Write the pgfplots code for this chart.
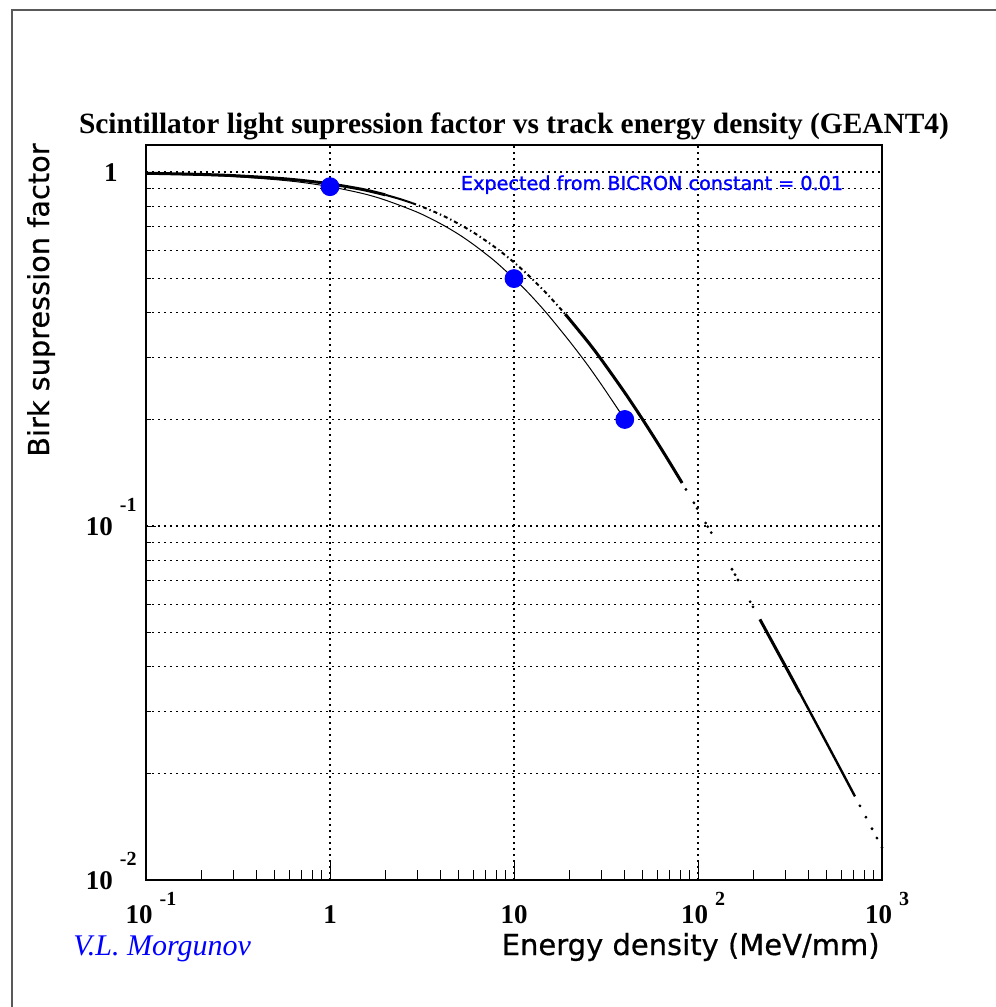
\documentclass[border=0pt]{standalone}
\usepackage{fontspec}
\setmainfont{Liberation Serif}
\newfontfamily\rootsans{DejaVu Sans}
\newfontfamily\rootsansb[FakeBold=1.2]{DejaVu Sans}
\newfontfamily\rootsanst[FakeBold=0.6]{DejaVu Sans}
\usepackage{pgfplots}
\pgfplotsset{compat=1.18}
\definecolor{rootblue}{RGB}{0,0,255}
\newcommand{\tenx}[1]{\hspace*{5pt}10\hspace{3.5pt}\raisebox{9pt}{\fontsize{10}{10}\selectfont #1}}
\newcommand{\teny}[1]{10\hspace{3.5pt}\raisebox{12pt}{\fontsize{10}{10}\selectfont #1}}
\begin{document}
\begin{tikzpicture}
\useasboundingbox (0,0) rectangle (498pt,-503.5pt);
\draw[black!65, line width=0.6pt] (6pt,-503.5pt) -- (6pt,-5pt) -- (498pt,-5pt);
\begin{axis}[
  at={(73pt,-440pt)}, anchor=south west,
  width=368pt, height=367.5pt, scale only axis,
  xmode=log, ymode=log,
  xmin=0.1, xmax=1000, ymin=0.01, ymax=1.192,
  axis line style={black, line width=0.8pt},
  tick pos=left, tick align=inside,
  xtick={0.1,1,10,100,1000},
  xticklabels={\tenx{-1},1,10,\tenx{2},\tenx{3}},
  ytick={0.01,0.1,1},
  yticklabels={\teny{-2},\teny{-1},1\hspace*{9.5pt}},
  xtick style={black, line width=0.5pt, /pgfplots/major tick length=9.5pt, /pgfplots/minor tick length=5pt},
  ytick style={black, line width=0.5pt, /pgfplots/major tick length=5pt, /pgfplots/minor tick length=2.5pt},
  xticklabel style={font=\fontsize{13.5}{14}\selectfont\bfseries, anchor=base, yshift=-21.5pt, inner sep=0pt},
  yticklabel style={font=\fontsize{13.5}{14}\selectfont\bfseries, anchor=base east, xshift=-4.5pt, yshift=-4.5pt, inner sep=0pt},
  xmajorgrids, ymajorgrids, yminorgrids,
  major grid style={black, line width=0.55pt, dash pattern=on 1pt off 2pt},
  minor grid style={black, line width=0.55pt, dash pattern=on 1pt off 2pt},
]
% thin expected curve
\addplot[black, line width=0.5pt, smooth] coordinates {
(0.1,0.990)(0.2,0.980)(0.3,0.971)(0.5,0.952)(0.7,0.935)(1,0.909)(1.5,0.870)(2,0.833)
(3,0.769)(4,0.714)(5,0.667)(6,0.625)(7,0.588)(8,0.556)(10,0.5)(12,0.455)(15,0.4)
(20,0.333)(25,0.286)(30,0.25)(35,0.222)(40,0.2)};
% GEANT4: dense segment A
\addplot[black, line width=1.5pt, smooth] coordinates {
(0.1,0.9921)(0.2,0.9843)(0.3,0.9766)(0.5,0.9615)(0.7,0.9470)(1,0.9259)(1.5,0.8929)(2,0.8621)};
\addplot[black, line width=1pt, smooth] coordinates {
(2,0.8621)(2.4,0.8389)(2.8,0.8170)};
% sparse segment
\addplot[black, line width=1pt, smooth, dash pattern=on 2pt off 1.5pt on 0.7pt off 1.5pt] coordinates {
(2.8,0.8170)(3.5,0.7813)(4.5,0.7353)(6,0.6757)(8,0.6098)(10,0.5556)(12,0.5102)(15,0.4545)(19,0.3968)};
% dense segment B
\addplot[black, line width=1.5pt, smooth] coordinates {
(19,0.3968)(25,0.3333)(30,0.2941)(40,0.2381)(50,0.2)(60,0.1724)(70,0.1515)(82,0.1323)};
% scattered points
\addplot[only marks, mark=*, mark size=0.5pt, black] coordinates {
(86,0.1269)(95,0.1163)(99,0.1121)(110,0.1020)(113,0.0996)(118,0.0958)
(153,0.0755)(159,0.0729)(165,0.0704)(192,0.0611)(199,0.0591)};
% dense segment C
\addplot[black, line width=1.5pt] coordinates {
(217,0.0545)(250,0.0476)(300,0.0400)(358,0.03374)};
\addplot[black, line width=1.2pt] coordinates {
(358,0.03374)(400,0.0303)(500,0.02439)(600,0.02041)(713,0.01723)};
\addplot[only marks, mark=*, mark size=0.5pt, black] coordinates {
(759,0.0162)(818,0.01505)(883,0.01396)(939,0.01314)(1000,0.01235)};
% expected points
\addplot[only marks, mark=*, mark size=4.5pt, draw=rootblue, fill=rootblue] coordinates {
(1,0.909)(10,0.5)(40,0.2)};
\end{axis}
\node[font=\fontsize{14.7}{16}\selectfont\bfseries, anchor=base, inner sep=0pt] at (257pt,-66.5pt)
  {Scintillator light supression factor vs track energy density (GEANT4)};
\node[font=\rootsansb\fontsize{9.6}{11}\selectfont, text=rootblue, anchor=base, inner sep=0pt] at (326pt,-95pt)
  {Expected from BICRON constant = 0.01};
\node[font=\rootsanst\fontsize{14.5}{16}\selectfont, anchor=base east, inner sep=0pt] at (440pt,-477.5pt)
  {Energy density (MeV/mm)};
\node[font=\rootsanst\fontsize{14.4}{16}\selectfont, anchor=base east, rotate=90, inner sep=0pt] at (24.5pt,-71.5pt)
  {Birk supression factor};
\node[font=\fontsize{15}{16}\selectfont\itshape, text=rootblue, anchor=base west, inner sep=0pt] at (36.5pt,-477.5pt)
  {V.L. Morgunov};
\end{tikzpicture}
\end{document}
